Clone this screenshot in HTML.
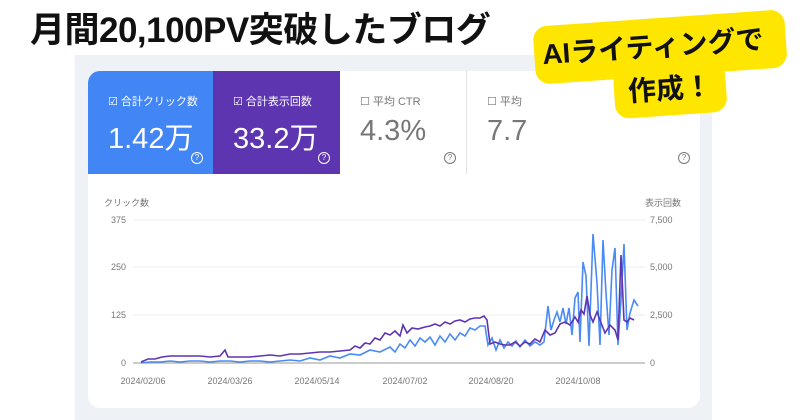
<!DOCTYPE html>
<html><head><meta charset="utf-8"><style>
*{margin:0;padding:0;box-sizing:border-box}
body{width:800px;height:420px;background:#fff;position:relative;overflow:hidden;font-family:"Liberation Sans","Noto Sans CJK JP",sans-serif}
.title{position:absolute;left:30px;top:2px;font-size:35px;font-weight:bold;color:#111;letter-spacing:-0.5px;white-space:nowrap}
.panel{position:absolute;left:75px;top:55px;width:637px;height:365px;background:#eef1f6}
.card{position:absolute;top:71px;height:103px}
.lab{position:absolute;left:20px;top:22px;font-size:11px}
.val{position:absolute;left:20px;top:44px;font-size:29px}
.q{position:absolute;right:10px;bottom:10px;width:12px;height:12px;border-radius:50%;border:1px solid;font-size:8px;text-align:center;line-height:10px}
.chart{position:absolute;left:88px;top:174px;width:612px;height:234px;background:#fff;border-radius:0 0 12px 12px}
.st{position:absolute;background:#ffe600;font-weight:bold;color:#111;border-radius:14px;white-space:nowrap}
</style></head><body>
<div class="title">月間20,100PV突破したブログ</div>
<div class="panel"></div>
<div class="card" style="left:88px;width:125px;background:#4285f4;color:#fff;border-radius:12px 0 0 0"><div class="lab">☑ 合計クリック数</div><div class="val">1.42万</div><div class="q">?</div></div>
<div class="card" style="left:213px;width:127px;background:#5e35b1;color:#fff"><div class="lab">☑ 合計表示回数</div><div class="val">33.2万</div><div class="q">?</div></div>
<div class="card" style="left:340px;width:127px;background:#fff;color:#777;border-right:1px solid #e3e3e3"><div class="lab">☐ 平均 CTR</div><div class="val">4.3%</div><div class="q">?</div></div>
<div class="card" style="left:467px;width:233px;background:#fff;color:#777;border-radius:0 12px 0 0"><div class="lab">☐ 平均</div><div class="val">7.7</div><div class="q">?</div></div>
<div class="chart"></div>
<svg width="800" height="420" style="position:absolute;left:0;top:0" font-family="Liberation Sans, Noto Sans CJK JP, sans-serif" font-size="9" fill="#777">
<text x="104" y="206">クリック数</text><text x="645" y="206">表示回数</text>
<g stroke="#eee"><line x1="133" y1="220" x2="645" y2="220"/><line x1="133" y1="267" x2="645" y2="267"/><line x1="133" y1="315" x2="645" y2="315"/></g>
<line x1="133" y1="363" x2="645" y2="363" stroke="#999"/>
<g text-anchor="end"><text x="126" y="223">375</text><text x="126" y="270">250</text><text x="126" y="318">125</text><text x="126" y="366">0</text></g>
<text x="650" y="223">7,500</text><text x="650" y="270">5,000</text><text x="650" y="318">2,500</text><text x="650" y="366">0</text>
<g text-anchor="middle"><text x="143" y="384">2024/02/06</text><text x="230" y="384">2024/03/26</text><text x="317" y="384">2024/05/14</text><text x="405" y="384">2024/07/02</text><text x="491" y="384">2024/08/20</text><text x="578" y="384">2024/10/08</text></g>
<polyline fill="none" stroke="#4a8af4" stroke-width="1.6" points="141,363 150,362 160,362 170,361 180,362 190,361 200,361 210,362 220,361 230,361 240,362 250,361 260,361 270,362 280,361 290,360 300,361 310,358 320,360 330,356 340,358 350,354 360,355 370,350 380,352 390,347 395,352 400,344 405,348 410,340 415,346 420,338 425,342 430,337 435,345 440,336 445,342 450,334 455,340 460,333 465,336 470,328 475,330 480,326 485,326 488,345 492,338 496,350 500,340 504,348 508,342 512,346 516,341 520,347 525,340 530,346 535,342 540,345 544,342 548,306 551,330 554,320 557,312 560,322 563,308 566,324 569,308 572,335 575,298 578,292 580,342 583,262 586,276 589,346 593,234 597,283 600,345 603,240 606,293 609,335 612,270 615,248 618,345 621,300 624,244 627,330 630,313 634,300 638,306"/>
<polyline fill="none" stroke="#5e35b1" stroke-width="1.6" points="141,362 148,359 155,359 162,357 170,356 180,356 190,356 200,356 210,357 220,356 225,350 228,357 240,357 250,357 260,356 270,355 280,356 290,354 300,354 310,353 320,352 330,352 340,351 350,350 355,346 360,348 365,343 370,344 375,338 380,340 385,333 390,335 395,331 400,336 403,325 407,333 412,328 418,329 425,327 430,326 435,324 440,326 445,322 450,324 455,321 460,320 465,322 470,319 475,318 480,318 484,316 487,320 490,344 495,342 500,344 505,345 510,345 515,342 520,346 525,342 530,344 535,339 540,342 545,330 550,335 555,333 560,324 565,322 570,325 575,317 578,322 581,310 584,314 587,296 590,315 593,322 597,312 600,320 605,333 610,325 615,330 618,340 621,255 624,320 627,322 630,318 634,320"/>
</svg>
<div style="position:absolute;left:0;top:0;width:800px;height:130px;transform:rotate(-4deg);transform-origin:660px 60px">
<div class="st" style="left:535px;top:18px;width:252px;height:58px;font-size:28px;line-height:58px;padding-left:8px">AIライティングで</div>
<div class="st" style="left:612px;top:66px;width:112px;height:50px;font-size:28px;line-height:48px;text-align:center">作成！</div>
</div>
</body></html>
